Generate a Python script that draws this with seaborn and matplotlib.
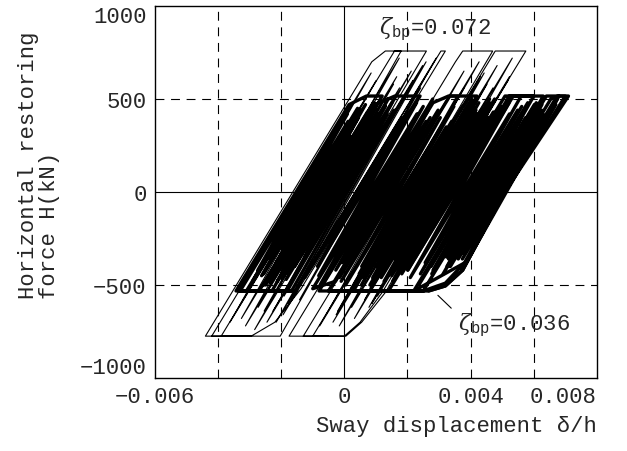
import matplotlib
matplotlib.use("Agg")
import matplotlib.pyplot as plt
import numpy as np
import pandas as pd
import seaborn as sns

# drift in units of 1e-3 (axis labelled in plain drift), force in kN
# zeta_bp = 0.072 (thin lines), left group
thin_a_x = [-2.95, -4.4, 0.87, 1.3, 1.8, -3.13, 1.66, -2.54, 1.75, -2.45, 2.48, -1.79, 3.06, 3.2,
            -1.37, -2.2, -2.95, -3.9, 1.01, -3.26, 1.74, -2.73, 1.56, -2.84, 2.12, -1.91, 2.59,
            -1.94, 2.42, -2.03, -4.2, 0.85, -3.62, 1.59, 2.6, -2.26, 2.17, -2.16, 2.91, -1.42]
thin_a_y = [-775, -775, 700, 758, 758, -720, 620, -640, 560, -700, 680, -600, 758, 758,
            -520, -700, -775, -775, 600, -680, 720, -620, 580, -740, 650, -560, 700,
            -660, 560, -775, -775, 640, -700, 758, 758, -640, 600, -700, 720, -580]
# zeta_bp = 0.072 (thin lines), right group
thin_b_x = [-0.5, -1.75, 3.52, 3.75, 4.7, -0.36, 4.43, 0.23, 4.52, 0.32, 5.32, 1.05, 5.19, 1.2,
            0.5, 0.0, -1.3, 3.79, -0.78, 3.79, -0.21, 4.78, 5.75, 0.87, 5.23, 1.3, 0.55, 0.05,
            -1.0, 4.27, -0.26, 4.31, -0.16, 4.84, 0.64, 4.71, 0.78]
thin_b_y = [-775, -775, 700, 758, 758, -700, 640, -620, 580, -680, 720, -560, 600, -540,
            -700, -775, -775, 650, -720, 560, -640, 758, 758, -600, 620, -540, -700, -775,
            -775, 700, -660, 620, -720, 680, -580, 560, -620]
# zeta_bp = 0.036 (thick lines), left group
thick_c_x = [-1.5, -3.43, 0.15, 0.7, 1.2, -2.29, -3.3, 0.1, -2.9, 0.42, -2.55, 0.45, -2.55, 0.95,
             -2.05, 0.81, -1.99, 1.3, -1.57, 1.36, -1.81, -3.1, 0.05, -2.62, 0.67, -2.16, 0.73,
             -2.34, 0.84, -1.93, 1.39, -1.84, 1.12, -1.25, 1.57, -1.67, -2.7, 0.27, -2.06, 0.98,
             -2.12, 1.09, -1.78, 1.51, -1.86, -3.35, 0.19, -2.74, 0.12, -2.35, 0.51, -1.96, 0.18,
             -2.49, 0.97, 1.6, 2.4, -1.25, 1.82, -0.85, 2.29, -0.81, 2.3, -0.77, 2.8, -0.27,
             2.59, -0.28, -1.0, 2.5, -0.63, 2.66, -0.07, 2.72, -0.15, 3.34, 3.6, 0.55, 3.23, 0.33]
thick_c_y = [-532, -532, 470, 516, 516, -532, -532, 420, -480, 450, -440, 400, -500, 480,
             -420, 380, -460, 460, -400, 420, -532, -532, 350, -450, 470, -380, 430,
             -490, 400, -430, 500, -470, 360, -350, 440, -532, -532, 300, -400, 450,
             -480, 420, -440, 480, -532, -532, 460, -420, 380, -360, 440, -300, 300,
             -500, 470, 516, 516, -460, 400, -400, 480, -450, 420, -500, 500, -420,
             380, -480, -520, 460, -480, 440, -380, 400, -460, 516, 516, -400, 350, -520]
# zeta_bp = 0.036 (thick lines), right group
thick_d_x = [1.0, -0.8, 2.81, 3.3, 4.2, 0.81, 4.17, 1.17, 4.6, 1.53, 4.53, 1.53, 5.09, 5.6, 2.41,
             5.62, 2.75, 5.61, 3.01, 6.08, 3.31, 6.4, 7.1, 5.08, 3.75, 3.2, 2.67, 0.2, 3.74, 0.54,
             3.83, 0.9, 4.26, 1.26, 4.33, 1.26, 4.76, 1.76, 4.72, 1.82, 5.23, 6.0, 3.01, 6.05,
             3.38, 6.06, 3.33, 6.54, 6.8, 3.81, 3.2, 2.5, -0.5, 2.97, -0.1, 3.04, 0.04, 3.47,
             0.47, 3.4, 0.6, 4.03, 1.03, 4.07, 0.84, 4.2, 1.6, 4.6, 1.5, 4.54, 1.94, 4.94, 2.01,
             5.35, 6.3, 3.25, 6.25, 3.78, 6.21, 3.74, 6.7, 3.73]
thick_d_y = [-532, -532, 480, 516, 516, -500, 440, -460, 500, -420, 420, -480, 516, 516, -440,
             460, -400, 400, -380, 480, -350, 516, 516, 0, -420, -505, -532, -532, 460, -500,
             420, -460, 480, -420, 440, -480, 500, -400, 430, -440, 516, 516, -380, 470,
             -330, 420, -400, 500, 516, -380, -490, -532, -532, 440, -480, 400, -500, 460,
             -440, 380, -460, 500, -400, 450, -520, 420, -360, 480, -450, 400, -380, 460, -420,
             516, 516, -400, 440, -300, 380, -360, 470, -420]
# zeta_bp = 0.036 (thick lines), right group, outer cycles
thick_e_x = [2.5, 5.97, 3.3, 6.26, 3.36, 6.29, 3.79, 6.75, 3.82, 2.2, 5.81, 2.81, 5.74, 3.24,
             6.13, 3.13, 6.24, 3.61, 6.74, 7.0, 5.08, 3.75, 3.2, 2.67]
thick_e_y = [-532, 440, -360, 470, -400, 420, -330, 500, -380, -532, 480, -420, 400, -350,
             460, -440, 430, -360, 516, 516, 0, -420, -505, -532]
# zeta_bp = 0.036 (thick lines), right group, middle cycles
thick_f_x = [1.4, 4.94, 2.01, 5.22, 2.09, 5.23, 2.56, 5.49, 2.36, 5.57, 2.77, 6.02, 3.29]
thick_f_y = [-532, 460, -420, 480, -460, 420, -380, 440, -500, 400, -440, 470, -350]

x_ticks = [-6, 0, 4, 8]
x_tick_labels = ["\u22120.006", "0", "0.004", "0.008"]
y_ticks = [-1000, -500, 0, 500, 1000]
y_tick_labels = ["\u22121000", "\u2212500", "0", "500", "1000"]
grid_x_dashed = [-4, -2, 2, 4, 6]
grid_y_dashed = [-500, 500]

sns.set_theme(style="white")
fam = ["Liberation Mono", "DejaVu Sans Mono", "DejaVu Sans"]
plt.rcParams["font.family"] = fam
plt.rcParams["mathtext.fontset"] = "custom"
plt.rcParams["mathtext.rm"] = "Liberation Mono"
plt.rcParams["mathtext.it"] = "DejaVu Serif:italic"

frames = []
for name, xs, ys, w in [("a", thin_a_x, thin_a_y, "thin"), ("b", thin_b_x, thin_b_y, "thin"),
                        ("c", thick_c_x, thick_c_y, "thick"), ("d", thick_d_x, thick_d_y, "thick"),
                        ("e", thick_e_x, thick_e_y, "thick"), ("f", thick_f_x, thick_f_y, "thick")]:
    frames.append(pd.DataFrame({"drift": xs, "force": ys, "path": name, "kind": w}))
df = pd.concat(frames, ignore_index=True)

fig = plt.figure(figsize=(6.27, 4.52), dpi=100)
ax = fig.add_axes([0.247, 0.1615, 0.705, 0.823])

for gx in grid_x_dashed:
    ax.axvline(gx, color="black", lw=0.8, ls=(0, (8, 6)), zorder=1)
for gy in grid_y_dashed:
    ax.axhline(gy, color="black", lw=0.8, ls=(0, (8, 6)), zorder=1)
ax.axvline(0, color="black", lw=0.8, zorder=1)
ax.axhline(0, color="black", lw=0.8, zorder=1)

sns.lineplot(data=df[df["kind"] == "thin"], x="drift", y="force", units="path", estimator=None,
             sort=False, color="black", lw=0.8, ax=ax, zorder=2)
sns.lineplot(data=df[df["kind"] == "thick"], x="drift", y="force", units="path", estimator=None,
             sort=False, color="black", lw=2.4, ax=ax, zorder=3)

ax.set_xlim(-6, 8)
ax.set_ylim(-1000, 1000)
ax.set_xticks(x_ticks)
ax.set_xticklabels(x_tick_labels, fontsize=16)
ax.set_yticks(y_ticks)
ax.set_yticklabels(y_tick_labels, fontsize=16)
ax.tick_params(length=0, pad=6)
ylabs = ax.get_yticklabels()
ylabs[0].set_va("bottom")
ylabs[-1].set_va("top")
xlabs = ax.get_xticklabels()
xlabs[-1].set_ha("right")
for s in ax.spines.values():
    s.set_color("black")
    s.set_linewidth(1.0)

ax.set_ylabel("Horizontal restoring\nforce H(kN)", fontsize=16, multialignment="left",
              linespacing=1.0)
ax.yaxis.set_label_coords(-0.215, 0.575)
ax.set_xlabel("Sway displacement \u03b4/h", fontsize=16, ha="right")
ax.xaxis.set_label_coords(1.0, -0.10)

ax.text(1.1, 880, r"$\zeta_{\rm bp}$=0.072", fontsize=16, ha="left", va="center")
ax.text(3.6, -710, r"$\zeta_{\rm bp}$=0.036", fontsize=16, ha="left", va="center")
ax.annotate("", xy=(2.9, -545), xytext=(3.45, -635),
            arrowprops=dict(arrowstyle="-", color="black", lw=0.8))

fig.savefig("out.png", dpi=100)
